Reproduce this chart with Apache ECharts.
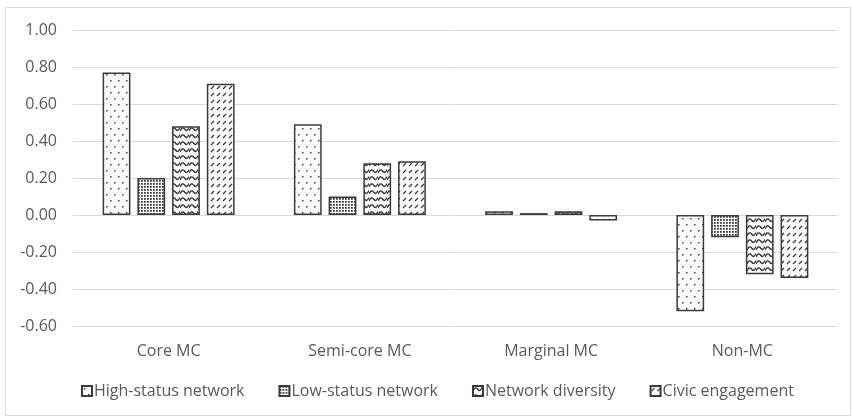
<!DOCTYPE html>
<html>
<head>
<meta charset="utf-8">
<script src="https://cdn.jsdelivr.net/npm/echarts@6/dist/echarts.min.js"></script>
<style>
  html, body { margin: 0; padding: 0; background: #fff; }
  #chart { width: 852px; height: 418px; }
</style>
</head>
<body>
<div id="chart"></div>
<script>
// Mean network / engagement scores by middle-class segment
const categories = ['Core MC', 'Semi-core MC', 'Marginal MC', 'Non-MC'];
const seriesNames = ['High-status network', 'Low-status network', 'Network diversity', 'Civic engagement'];
const highStatus = [0.77, 0.49, 0.02, -0.52];
const lowStatus = [0.20, 0.10, 0.01, -0.12];
const diversity = [0.48, 0.28, 0.02, -0.32];
const civic = [0.71, 0.29, -0.03, -0.34];
const yTicks = { min: -0.6, max: 1.0, step: 0.2 };

const INK = '#3a3a3a';
const BG = '#fcfcfc';
const FONT = '"Open Sans", "Noto Sans", sans-serif';

function tile(w, h, draw) {
  const c = document.createElement('canvas');
  c.width = w; c.height = h;
  const g = c.getContext('2d');
  g.fillStyle = BG;
  g.fillRect(0, 0, w, h);
  g.fillStyle = INK;
  g.strokeStyle = INK;
  draw(g);
  return { image: c, repeat: 'repeat' };
}

// sparse staggered dots
const dotsSparse = tile(8, 12, g => {
  g.fillRect(2, 2, 1.5, 1.5);
  g.fillRect(6, 8, 1.5, 1.5);
});
// dense dot grid
const dotsDense = tile(3, 3, g => {
  g.fillStyle = '#3c3c3c';
  g.fillRect(0, 0, 1.8, 1.8);
});
// wavy lines
const waves = tile(9, 7, g => {
  g.lineWidth = 1.4;
  g.beginPath();
  g.moveTo(0, 5);
  g.quadraticCurveTo(2.25, 0, 4.5, 3);
  g.quadraticCurveTo(6.75, 6.5, 9, 1.5);
  g.stroke();
});
// short diagonal dashes
const dashes = tile(6, 7, g => {
  g.lineWidth = 1.2;
  g.beginPath();
  g.moveTo(1, 5);
  g.lineTo(4, 2);
  g.stroke();
});

const patterns = [dotsSparse, dotsDense, waves, dashes];
const values = [highStatus, lowStatus, diversity, civic];

const chart = echarts.init(document.getElementById('chart'), null, { renderer: 'canvas' });

chart.setOption({
  animation: false,
  backgroundColor: '#fff',
  textStyle: { fontFamily: FONT },
  graphic: [{
    type: 'rect',
    shape: { x: 5.5, y: 7.5, width: 845, height: 408 },
    style: { fill: 'none', stroke: '#d9d9d9', lineWidth: 1 },
    silent: true
  }],
  grid: { left: 73, right: 14, top: 30, bottom: 92 },
  legend: {
    top: 378,
    left: 76,
    icon: 'rect',
    itemWidth: 10,
    itemHeight: 10,
    itemGap: 34,
    textStyle: { color: '#595959', fontSize: 16, fontFamily: FONT, padding: [0, 0, 0, -3] },
    data: seriesNames
  },
  xAxis: {
    type: 'category',
    data: categories,
    axisLine: { show: false },
    axisTick: { show: false },
    axisLabel: { color: '#595959', fontSize: 16, fontFamily: FONT, margin: 17 }
  },
  yAxis: {
    type: 'value',
    min: yTicks.min,
    max: yTicks.max,
    interval: yTicks.step,
    axisLine: { show: false },
    axisTick: { show: false },
    axisLabel: {
      color: '#595959',
      fontSize: 16,
      fontFamily: FONT,
      margin: 16,
      formatter: v => v.toFixed(2)
    },
    splitLine: { lineStyle: { color: '#d9d9d9', width: 1 } }
  },
  series: seriesNames.map((name, i) => ({
    name,
    type: 'bar',
    data: values[i],
    barCategoryGap: '31%',
    barGap: '25%',
    itemStyle: {
      color: patterns[i],
      borderColor: INK,
      borderWidth: 1.5
    }
  }))
});
</script>
</body>
</html>
